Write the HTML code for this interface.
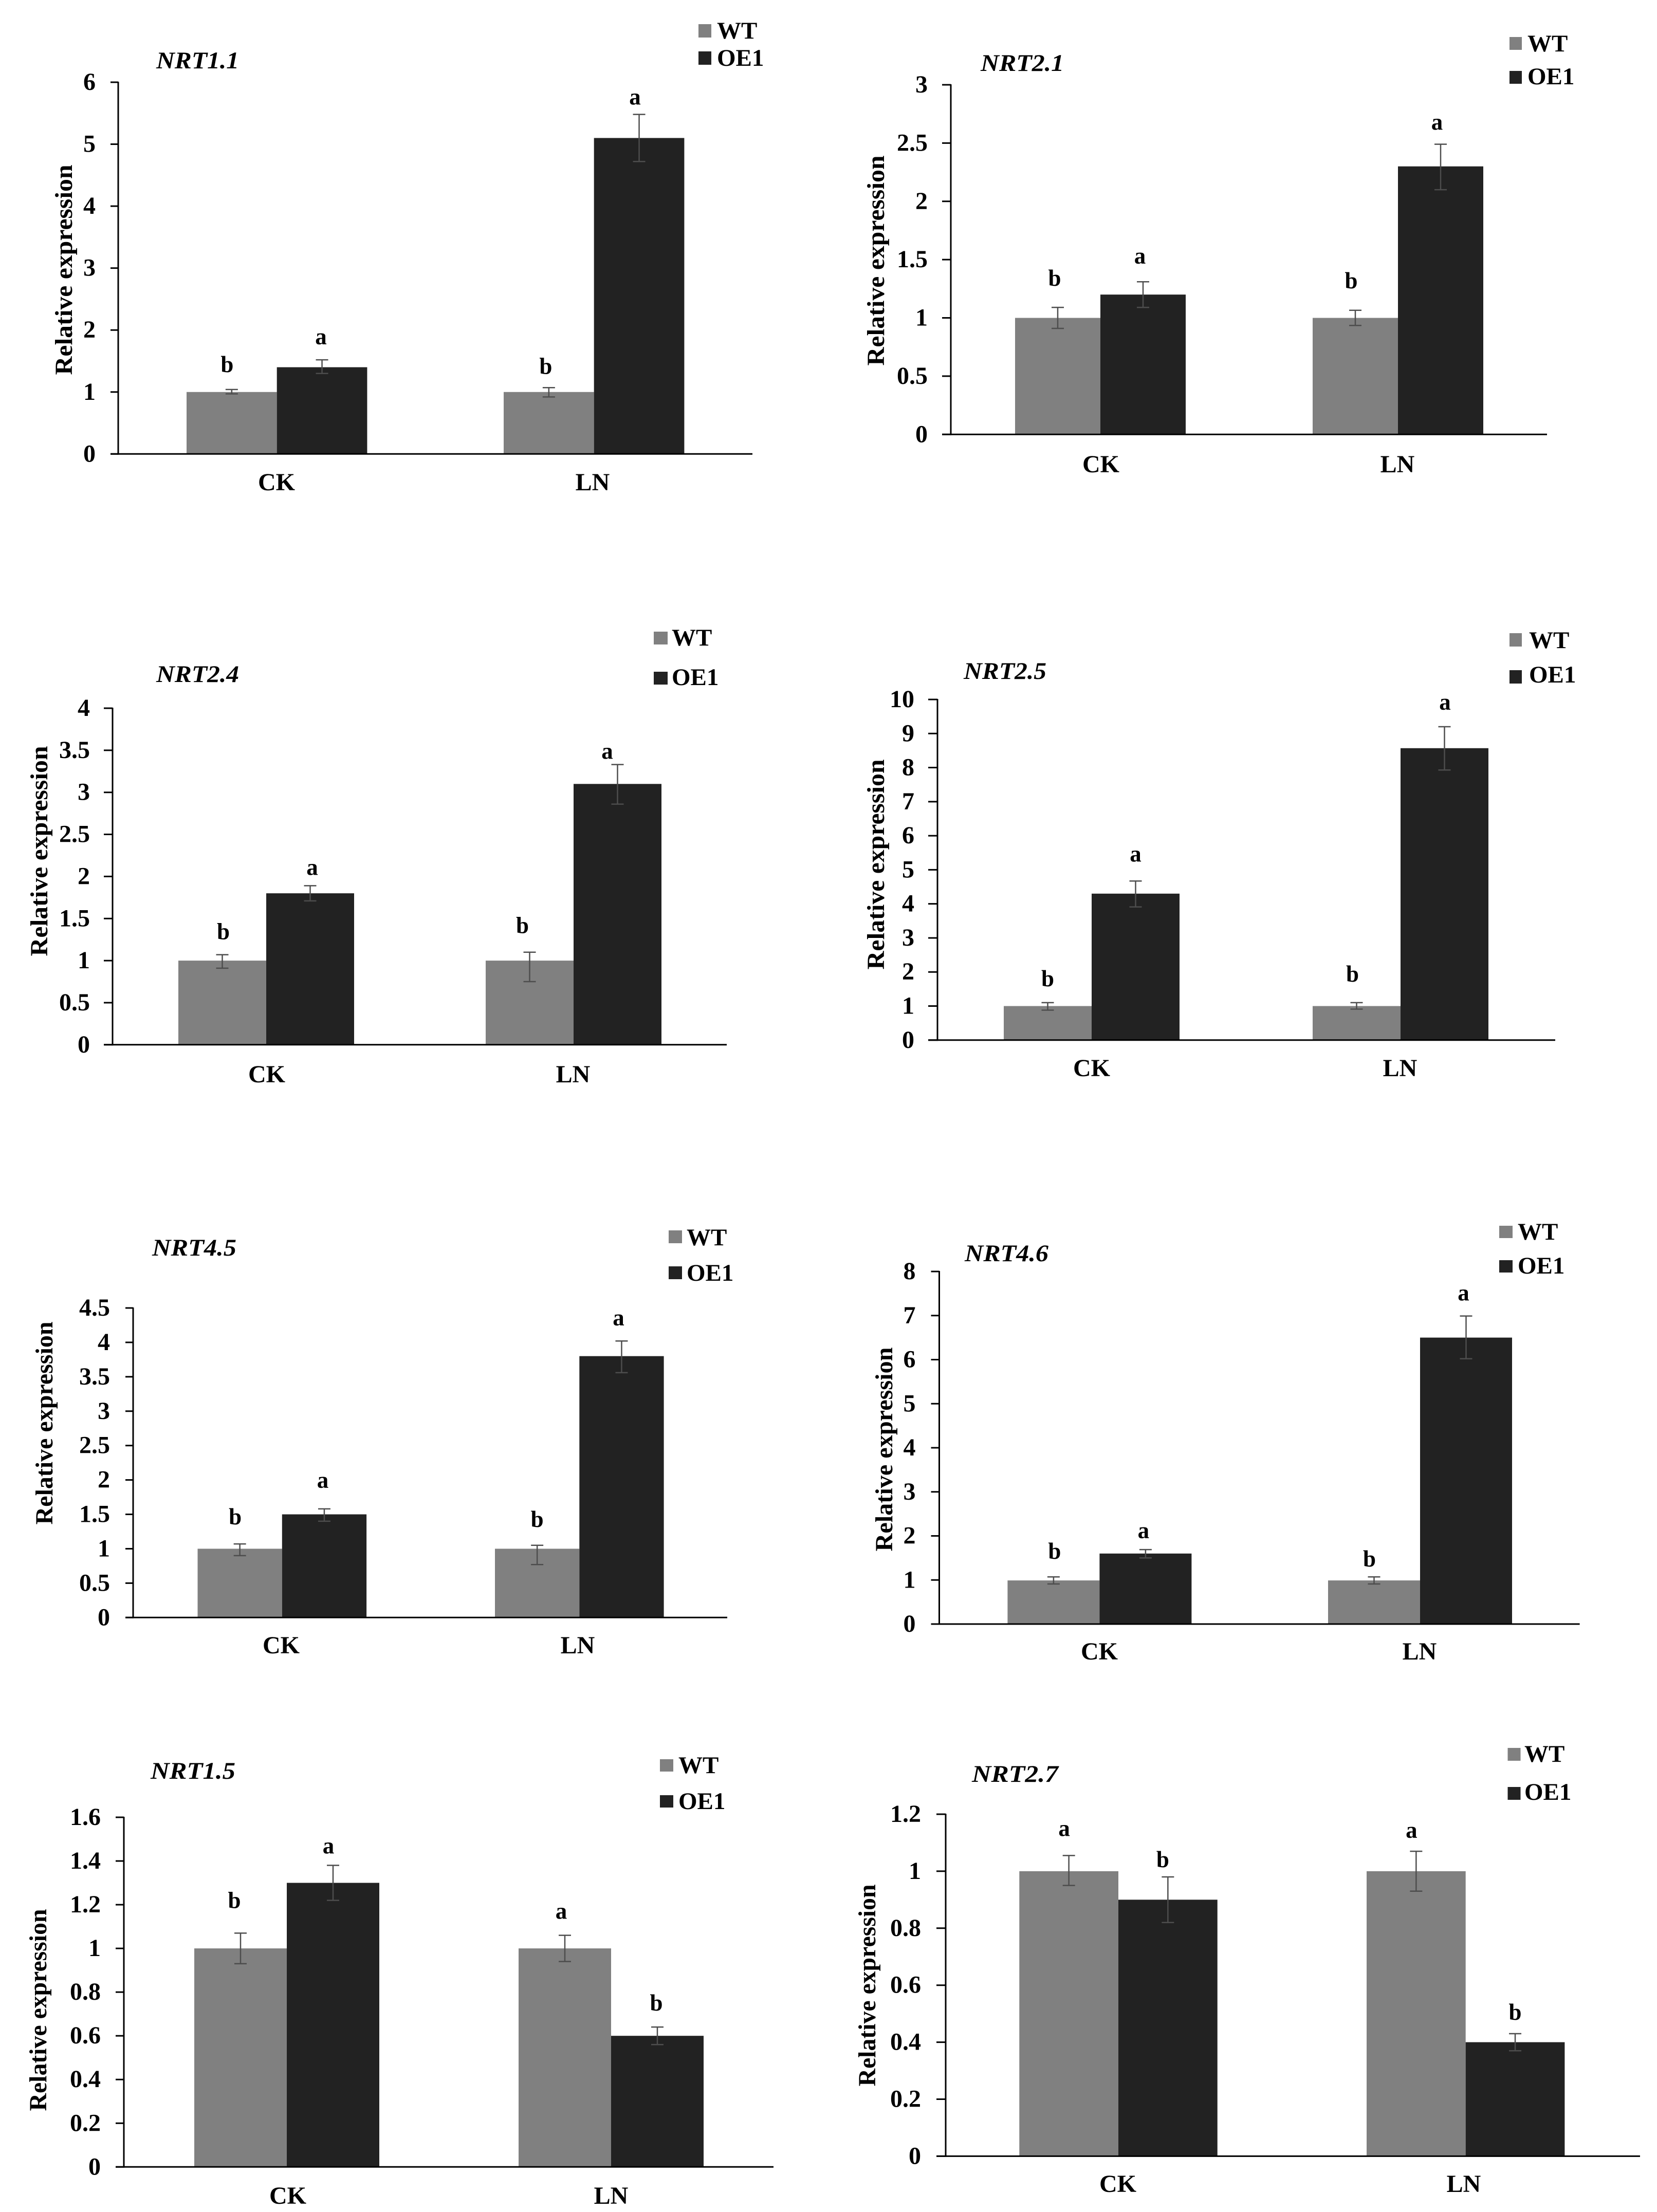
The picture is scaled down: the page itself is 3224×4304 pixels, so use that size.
<!DOCTYPE html>
<html lang="en">
<head>
<meta charset="utf-8">
<title>Relative expression of NRT genes</title>
<style>
html,body{margin:0;padding:0;background:#fff;width:3224px;height:4304px;overflow:hidden}
svg{display:block}
text{font-family:"Liberation Serif","Times New Roman",serif;font-weight:bold;fill:#000}
</style>
</head>
<body>
<svg id="fig" xmlns="http://www.w3.org/2000/svg" width="3224" height="4304" viewBox="0 0 3224 4304"></svg>
<script>
const categories = ['CK', 'LN'];
const seriesNames = ['WT', 'OE1'];
const yAxisTitle = 'Relative expression';

const nrt11Ticks = [0, 1, 2, 3, 4, 5, 6];
const nrt11Wt = [1, 1];
const nrt11Oe = [1.4, 5.1];
const nrt11WtUp = [0.04, 0.07];
const nrt11WtDown = [0.03, 0.08];
const nrt11OeUp = [0.12, 0.38];
const nrt11OeDown = [0.1, 0.38];
const nrt11WtLetters = ['b', 'b'];
const nrt11OeLetters = ['a', 'a'];

const nrt21Ticks = [0, 0.5, 1, 1.5, 2, 2.5, 3];
const nrt21Wt = [1, 1];
const nrt21Oe = [1.2, 2.3];
const nrt21WtUp = [0.09, 0.065];
const nrt21WtDown = [0.09, 0.065];
const nrt21OeUp = [0.11, 0.19];
const nrt21OeDown = [0.11, 0.2];
const nrt21WtLetters = ['b', 'b'];
const nrt21OeLetters = ['a', 'a'];

const nrt24Ticks = [0, 0.5, 1, 1.5, 2, 2.5, 3, 3.5, 4];
const nrt24Wt = [1, 1];
const nrt24Oe = [1.8, 3.1];
const nrt24WtUp = [0.07, 0.1];
const nrt24WtDown = [0.09, 0.25];
const nrt24OeUp = [0.09, 0.23];
const nrt24OeDown = [0.09, 0.24];
const nrt24WtLetters = ['b', 'b'];
const nrt24OeLetters = ['a', 'a'];

const nrt25Ticks = [0, 1, 2, 3, 4, 5, 6, 7, 8, 9, 10];
const nrt25Wt = [1, 1];
const nrt25Oe = [4.3, 8.57];
const nrt25WtUp = [0.1, 0.1];
const nrt25WtDown = [0.12, 0.09];
const nrt25OeUp = [0.37, 0.63];
const nrt25OeDown = [0.39, 0.64];
const nrt25WtLetters = ['b', 'b'];
const nrt25OeLetters = ['a', 'a'];

const nrt45Ticks = [0, 0.5, 1, 1.5, 2, 2.5, 3, 3.5, 4, 4.5];
const nrt45Wt = [1, 1];
const nrt45Oe = [1.5, 3.8];
const nrt45WtUp = [0.07, 0.05];
const nrt45WtDown = [0.1, 0.23];
const nrt45OeUp = [0.08, 0.22];
const nrt45OeDown = [0.1, 0.24];
const nrt45WtLetters = ['b', 'b'];
const nrt45OeLetters = ['a', 'a'];

const nrt46Ticks = [0, 1, 2, 3, 4, 5, 6, 7, 8];
const nrt46Wt = [0.99, 0.99];
const nrt46Oe = [1.6, 6.5];
const nrt46WtUp = [0.08, 0.08];
const nrt46WtDown = [0.08, 0.08];
const nrt46OeUp = [0.09, 0.49];
const nrt46OeDown = [0.1, 0.48];
const nrt46WtLetters = ['b', 'b'];
const nrt46OeLetters = ['a', 'a'];

const nrt15Ticks = ['0', '0.2', '0.4', '0.6', '0.8', '1', '1.2', '1.4', '1.6'];
const nrt15Wt = [1, 1];
const nrt15Oe = [1.3, 0.6];
const nrt15WtUp = [0.07, 0.06];
const nrt15WtDown = [0.07, 0.06];
const nrt15OeUp = [0.08, 0.04];
const nrt15OeDown = [0.08, 0.04];
const nrt15WtLetters = ['b', 'a'];
const nrt15OeLetters = ['a', 'b'];

const nrt27Ticks = ['0', '0.2', '0.4', '0.6', '0.8', '1', '1.2'];
const nrt27Wt = [1, 1];
const nrt27Oe = [0.9, 0.4];
const nrt27WtUp = [0.055, 0.07];
const nrt27WtDown = [0.05, 0.07];
const nrt27OeUp = [0.08, 0.03];
const nrt27OeDown = [0.08, 0.03];
const nrt27WtLetters = ['a', 'a'];
const nrt27OeLetters = ['b', 'b'];

/* panel layout only: frame, band placement and label offsets */
const panels = [
 {title:'NRT1.1',slug:'nrt1-1',ticks:nrt11Ticks,wt:nrt11Wt,oe:nrt11Oe,wtUp:nrt11WtUp,wtDown:nrt11WtDown,oeUp:nrt11OeUp,oeDown:nrt11OeDown,wtL:nrt11WtLetters,oeL:nrt11OeLetters,
  ax:230,top:160,base:883.3,right:1464,groupX:[363,980],barW:175.7,tickW:15,
  gap:[[47,-9],[43,-2],[40,-6],[32,-8]],
  swX:1359,swW:25,swY:[47,100],swH:26,legX:1395,legY:[59,112],tX:304,tY:119,tW:161,
  catX:[538,1153],catY:943,yBase:140,yC:525,yLen:409,tickGap:44},
 {title:'NRT2.1',slug:'nrt2-1',ticks:nrt21Ticks,wt:nrt21Wt,oe:nrt21Oe,wtUp:nrt21WtUp,wtDown:nrt21WtDown,oeUp:nrt21OeUp,oeDown:nrt21OeDown,wtL:nrt21WtLetters,oeL:nrt21OeLetters,
  ax:1850,top:165,base:845.3,right:3010,groupX:[1975,2554],barW:166,tickW:17,
  gap:[[55,-6],[48,-6],[56,-8],[41,-7]],
  swX:2937,swW:24,swY:[72,138],swH:25,legX:2972,legY:[84,148],tX:1908,tY:124,tW:162,
  catX:[2142,2719],catY:908,yBase:1720,yC:507,yLen:409,tickGap:45},
 {title:'NRT2.4',slug:'nrt2-4',ticks:nrt24Ticks,wt:nrt24Wt,oe:nrt24Oe,wtUp:nrt24WtUp,wtDown:nrt24WtDown,oeUp:nrt24OeUp,oeDown:nrt24OeDown,wtL:nrt24WtLetters,oeL:nrt24OeLetters,
  ax:219,top:1378,base:2032.8,right:1414,groupX:[347,945],barW:171,tickW:17,
  gap:[[43,2],[34,4],[50,-14],[24,-20]],
  swX:1272,swW:27,swY:[1229,1307],swH:25,legX:1307,legY:[1240,1317],tX:304,tY:1313,tW:161,
  catX:[519,1115],catY:2095,yBase:92,yC:1656,yLen:409,tickGap:44},
 {title:'NRT2.5',slug:'nrt2-5',ticks:nrt25Ticks,wt:nrt25Wt,oe:nrt25Oe,wtUp:nrt25WtUp,wtDown:nrt25WtDown,oeUp:nrt25OeUp,oeDown:nrt25OeDown,wtL:nrt25WtLetters,oeL:nrt25OeLetters,
  ax:1824,top:1361,base:2023.8,right:3026,groupX:[1953,2554],barW:171,tickW:18,
  gap:[[45,0],[51,0],[54,-8],[46,1]],
  swX:2937,swW:24,swY:[1232,1304],swH:26,legX:2975,legY:[1245,1312],tX:1875,tY:1307,tW:161,
  catX:[2124,2724],catY:2083,yBase:1720,yC:1682,yLen:409,tickGap:45},
 {title:'NRT4.5',slug:'nrt4-5',ticks:nrt45Ticks,wt:nrt45Wt,oe:nrt45Oe,wtUp:nrt45WtUp,wtDown:nrt45WtDown,oeUp:nrt45OeUp,oeDown:nrt45OeDown,wtL:nrt45WtLetters,oeL:nrt45OeLetters,
  ax:259,top:2545,base:3147.3,right:1415,groupX:[384.5,963],barW:164.3,tickW:15,
  gap:[[51,-9],[54,-3],[49,0],[43,-6]],
  swX:1301,swW:26,swY:[2394,2464],swH:25,legX:1336,legY:[2407,2476],tX:296,tY:2429,tW:164,
  catX:[547,1124],catY:3206,yBase:102,yC:2769,yLen:395,tickGap:45},
 {title:'NRT4.6',slug:'nrt4-6',ticks:nrt46Ticks,wt:nrt46Wt,oe:nrt46Oe,wtUp:nrt46WtUp,wtDown:nrt46WtDown,oeUp:nrt46OeUp,oeDown:nrt46OeDown,wtL:nrt46WtLetters,oeL:nrt46OeLetters,
  ax:1827.5,top:2474,base:3160,right:3073.6,groupX:[1960.4,2584],barW:179,tickW:16,
  gap:[[48,2],[35,-4],[33,-9],[43,-5]],
  swX:2917,swW:26,swY:[2385,2452],swH:24,legX:2953,legY:[2396,2462],tX:1877,tY:2440,tW:163,
  catX:[2139,2762],catY:3218,yBase:1736,yC:2820,yLen:397,tickGap:46},
 {title:'NRT1.5',slug:'nrt1-5',ticks:nrt15Ticks,wt:nrt15Wt,oe:nrt15Oe,wtUp:nrt15WtUp,wtDown:nrt15WtDown,oeUp:nrt15OeUp,oeDown:nrt15OeDown,wtL:nrt15WtLetters,oeL:nrt15OeLetters,
  ax:241,top:3536,base:4216.3,right:1505,groupX:[378,1009],barW:180,tickW:16,
  gap:[[62,-12],[36,-9],[45,-7],[45,-2]],
  swX:1284,swW:26,swY:[3423,3493],swH:24,legX:1320,legY:[3434,3504],tX:293,tY:3447,tW:165,
  catX:[560,1189],catY:4277,yBase:90,yC:3911,yLen:393,tickGap:45},
 {title:'NRT2.7',slug:'nrt2-7',ticks:nrt27Ticks,wt:nrt27Wt,oe:nrt27Oe,wtUp:nrt27WtUp,wtDown:nrt27WtDown,oeUp:nrt27OeUp,oeDown:nrt27OeDown,wtL:nrt27WtLetters,oeL:nrt27OeLetters,
  ax:1840,top:3530,base:4195.4,right:3191,groupX:[1983.3,2659],barW:192.7,tickW:18,
  gap:[[51,-9],[32,-10],[39,-9],[40,0]],
  swX:2933.5,swW:25,swY:[3401,3477],swH:25,legX:2966,legY:[3412,3486],tX:1891,tY:3453,tW:168,
  catX:[2175,2848],catY:4254,yBase:1703,yC:3863,yLen:393,tickGap:48}
];

const NS = 'http://www.w3.org/2000/svg';
const WT_COLOR = '#808080';
const OE_COLOR = '#222222';
const ERR_COLOR = '#4d4d4d';
const fig = document.getElementById('fig');

function add(parent, tag, attrs, txt) {
  const el = document.createElementNS(NS, tag);
  for (const k in attrs) el.setAttribute(k, attrs[k]);
  if (txt !== undefined) el.textContent = txt;
  parent.appendChild(el);
  return el;
}

panels.forEach(function (p) {
  const maxV = Number(p.ticks[p.ticks.length - 1]);
  const y = function (v) { return p.base - (Number(v) / maxV) * (p.base - p.top); };
  const barX = function (g, s) { return p.groupX[g] + s * p.barW; };

  const g = add(fig, 'g', {});
  
  

  const title = add(g, 'text', {x: p.tX, y: p.tY + 14, 'font-size': 47, 'font-style': 'italic', textLength: p.tW, lengthAdjust: 'spacingAndGlyphs'}, p.title);
  
  

  const ytitle = add(g, 'text', {transform: 'translate(' + p.yBase + ',' + p.yC + ') rotate(-90)', 'text-anchor': 'middle', 'font-size': 48, textLength: p.yLen, lengthAdjust: 'spacingAndGlyphs'}, yAxisTitle);
  
  

  seriesNames.forEach(function (name, s) {
    const sw = add(g, 'rect', {x: p.swX, y: p.swY[s], width: p.swW, height: p.swH, fill: s === 0 ? WT_COLOR : OE_COLOR});
    
    
    const lt = add(g, 'text', {x: p.legX, y: p.legY[s] + 16, 'font-size': 47}, name);
    
    
  });

  categories.forEach(function (cat, c) {
    const series = [
      {key: 'wt', vals: p.wt, up: p.wtUp, down: p.wtDown, letters: p.wtL, fill: WT_COLOR},
      {key: 'oe1', vals: p.oe, up: p.oeUp, down: p.oeDown, letters: p.oeL, fill: OE_COLOR}
    ];
    series.forEach(function (sr, s) {
      const v = sr.vals[c];
      const bar = add(g, 'rect', {x: barX(c, s), y: y(v), width: p.barW, height: p.base - y(v), fill: sr.fill});
      
      
    });
    series.forEach(function (sr, s) {
      const v = sr.vals[c];
      const cx = barX(c, s) + p.barW / 2;
      const yHi = y(v + sr.up[c]);
      const yLo = y(v - sr.down[c]);
      const eg = add(g, 'g', {stroke: ERR_COLOR, 'stroke-width': 2.5, fill: 'none'});
      
      
      add(eg, 'line', {x1: cx, x2: cx, y1: yHi, y2: yLo});
      add(eg, 'line', {x1: cx - 12, x2: cx + 12, y1: yHi, y2: yHi});
      add(eg, 'line', {x1: cx - 12, x2: cx + 12, y1: yLo, y2: yLo});

      const off = p.gap[c * 2 + s];
      const letter = sr.letters[c];
      const lt = add(g, 'text', {x: cx + off[1], y: yHi - off[0] + 13, 'text-anchor': 'middle', 'font-size': 45}, letter);
      
      
    });
    const cl = add(g, 'text', {x: p.catX[c], y: p.catY + 11, 'text-anchor': 'middle', 'font-size': 48}, cat);
    
    
  });

  const yAxis = add(g, 'line', {x1: p.ax, x2: p.ax, y1: p.top - 1, y2: p.base + 1.5, stroke: '#000', 'stroke-width': 3});
  
  

  const xAxis = add(g, 'line', {x1: p.ax - p.tickW, x2: p.right, y1: p.base, y2: p.base, stroke: '#000', 'stroke-width': 3});
  
  

  p.ticks.forEach(function (t) {
    const ty = y(t);
    const tick = add(g, 'line', {x1: p.ax - p.tickW, x2: p.ax, y1: ty, y2: ty, stroke: '#000', 'stroke-width': 3});
    
    
    const lab = add(g, 'text', {x: p.ax - p.tickGap, y: ty + 15, 'text-anchor': 'end', 'font-size': 48}, String(t));
    
    
  });
});
</script>
</body>
</html>
